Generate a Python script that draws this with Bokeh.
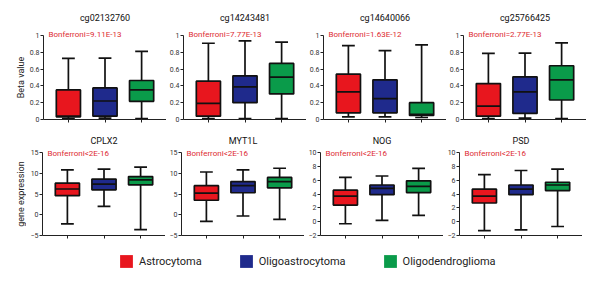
from math import pi
from bokeh.plotting import figure
from bokeh.layouts import column, row
from bokeh.models import ColumnDataSource, FixedTicker, Label, Legend, LegendItem, Range1d
from bokeh.embed import file_html
from bokeh.resources import INLINE

# ---------------- data ----------------
groups = ["Astrocytoma", "Oligoastrocytoma", "Oligodendroglioma"]
colors = ["#e8161e", "#1f2a8c", "#0a9b4a"]

probes = ["cg02132760", "cg14243481", "cg14640066", "cg25766425"]
probe_pvals = ["Bonferroni=9.11E-13", "Bonferroni=7.77E-13",
               "Bonferroni=1.63E-12", "Bonferroni=2.77E-13"]
genes = ["CPLX2", "MYT1L", "NOG", "PSD"]
gene_pvals = ["Bonferroni<2E-16", "Bonferroni<2E-16",
              "Bonferroni<2E-16", "Bonferroni<2E-16"]
row_labels = ["Beta value", "gene expression"]

# box statistics per panel: [Astrocytoma, Oligoastrocytoma, Oligodendroglioma]
cg02132760 = dict(lo=[0.01, 0.016, 0.012], q1=[0.032, 0.04, 0.216],
                  med=[0.04, 0.22, 0.352], q3=[0.352, 0.376, 0.464],
                  hi=[0.728, 0.73, 0.81])
cg14243481 = dict(lo=[0.01, 0.01, 0.01], q1=[0.04, 0.2, 0.304],
                  med=[0.192, 0.388, 0.504], q3=[0.456, 0.52, 0.668],
                  hi=[0.908, 0.936, 0.92])
cg14640066 = dict(lo=[0.032, 0.032, 0.024], q1=[0.08, 0.08, 0.048],
                  med=[0.328, 0.248, 0.06], q3=[0.54, 0.472, 0.2],
                  hi=[0.88, 0.82, 0.888])
cg25766425 = dict(lo=[0.01, 0.016, 0.01], q1=[0.04, 0.072, 0.232],
                  med=[0.16, 0.328, 0.472], q3=[0.428, 0.508, 0.64],
                  hi=[0.788, 0.79, 0.912])

CPLX2 = dict(lo=[-2.2, 2.0, -3.6], q1=[4.6, 6.0, 7.2],
             med=[6.2, 7.4, 8.4], q3=[7.6, 8.6, 9.2],
             hi=[10.8, 11.0, 11.5])
MYT1L = dict(lo=[-1.6, -0.3, -1.1], q1=[3.5, 5.3, 6.5],
             med=[5.2, 7.0, 8.0], q3=[7.0, 8.0, 9.0],
             hi=[10.3, 10.8, 11.2])
NOG = dict(lo=[-0.3, 0.2, 0.9], q1=[2.4, 3.9, 4.2],
           med=[3.7, 4.8, 5.1], q3=[4.55, 5.3, 5.9],
           hi=[6.4, 6.6, 7.7])
PSD = dict(lo=[-1.3, -1.2, -0.7], q1=[2.7, 3.9, 4.5],
           med=[3.7, 4.7, 5.3], q3=[4.7, 5.3, 5.7],
           hi=[6.8, 7.4, 7.6])

beta_ticks = [0.0, 0.2, 0.4, 0.6, 0.8, 1.0]
expr_ticks_a = [-5, 0, 5, 10, 15]
expr_ticks_b = [-2, 0, 2, 4, 6, 8, 10]

FONT = "Roboto"
PVAL_COLOR = "#dd2a30"
FRAME_W = 123
LEFT = 16
BOTTOM = 10
BOX_W = 0.66
CAP_W = 0.35


def panel(title, stats, pval, yrange, ticks, head_px, data_px,
          title_dy, pval_dy):
    xs = [i + 1 for i in range(len(groups))]
    y0, y1 = yrange
    # frame extends head_px pixels above the data range (for title / p-value)
    y_top = y1 + head_px * (y1 - y0) / data_px
    p = figure(frame_width=FRAME_W, frame_height=head_px + data_px,
               title=None,
               x_range=Range1d(0.32, 3.68), y_range=Range1d(y0, y_top),
               output_backend="svg", toolbar_location=None,
               min_border_left=LEFT, min_border_right=0,
               min_border_top=0, min_border_bottom=BOTTOM)
    p.outline_line_color = None
    p.grid.visible = False

    p.xaxis.ticker = FixedTicker(ticks=xs)
    p.xaxis.major_label_overrides = {x: "" for x in xs}
    p.xaxis.major_label_text_font_size = "4px"
    p.xaxis.major_label_standoff = 0
    p.yaxis.ticker = FixedTicker(ticks=ticks)
    p.yaxis.bounds = (y0, y1)
    for ax in (p.xaxis, p.yaxis):
        ax.axis_line_color = "#222222"
        ax.axis_line_width = 1
        ax.major_tick_line_color = "#222222"
        ax.major_tick_in = 0
        ax.major_tick_out = 3
        ax.minor_tick_line_color = None
    p.yaxis.major_label_text_font = FONT
    p.yaxis.major_label_text_font_size = "7px"
    p.yaxis.major_label_text_color = "#333333"
    p.yaxis.major_label_standoff = 1

    src = ColumnDataSource(dict(
        x=xs, lo=stats["lo"], q1=stats["q1"], med=stats["med"],
        q3=stats["q3"], hi=stats["hi"], color=colors,
        bl=[x - BOX_W / 2 for x in xs], br=[x + BOX_W / 2 for x in xs],
        cl=[x - CAP_W / 2 for x in xs], cr=[x + CAP_W / 2 for x in xs]))
    lw = 1.7
    p.segment(x0="x", y0="q3", x1="x", y1="hi", source=src, line_color="#111111", line_width=lw)
    p.segment(x0="x", y0="lo", x1="x", y1="q1", source=src, line_color="#111111", line_width=lw)
    p.segment(x0="cl", y0="hi", x1="cr", y1="hi", source=src, line_color="#111111", line_width=lw)
    p.segment(x0="cl", y0="lo", x1="cr", y1="lo", source=src, line_color="#111111", line_width=lw)
    p.vbar(x="x", width=BOX_W, bottom="q1", top="q3", source=src,
           fill_color="color", line_color="#111111", line_width=lw)
    p.segment(x0="bl", y0="med", x1="br", y1="med", source=src,
              line_color="#111111", line_width=lw)

    p.add_layout(Label(x=2, y=y1, y_offset=title_dy, text=title,
                       text_font=FONT, text_font_size="9px",
                       text_color="#111111", text_align="center",
                       text_baseline="middle"))
    p.add_layout(Label(x=0.32, y=y1, x_offset=5, y_offset=pval_dy, text=pval,
                       text_font=FONT, text_font_size="8px",
                       text_color=PVAL_COLOR, text_baseline="middle"))
    return p


def ylabel_strip(text, ref_panel, head_px, data_px, yrange):
    s = figure(frame_width=26, frame_height=head_px + data_px, title=None,
               x_range=Range1d(0, 1), y_range=ref_panel.y_range,
               output_backend="svg", toolbar_location=None,
               x_axis_location=None, y_axis_location=None,
               min_border_left=0, min_border_right=0, min_border_top=0,
               min_border_bottom=BOTTOM)
    s.outline_line_color = None
    s.grid.visible = False
    s.add_layout(Label(x=0.8, y=(yrange[0] + yrange[1]) / 2, text=text,
                       angle=pi / 2, text_font=FONT, text_font_size="9px",
                       text_color="#222222", text_align="center",
                       text_baseline="middle"))
    return s


top_stats = [cg02132760, cg14243481, cg14640066, cg25766425]
bot_stats = [CPLX2, MYT1L, NOG, PSD]
bot_ranges = [(-5, 15), (-5, 15), (-2, 10), (-2, 10)]
bot_ticks = [expr_ticks_a, expr_ticks_a, expr_ticks_b, expr_ticks_b]

TOP_HEAD, TOP_DATA = 35, 84
BOT_HEAD, BOT_DATA = 23, 83

top_row = [panel(probes[i], top_stats[i], probe_pvals[i], (0, 1.0),
                 beta_ticks, TOP_HEAD, TOP_DATA, 18, 1) for i in range(4)]
bot_row = [panel(genes[i], bot_stats[i], gene_pvals[i], bot_ranges[i],
                 bot_ticks[i], BOT_HEAD, BOT_DATA, 12, -1) for i in range(4)]

top_lab = ylabel_strip(row_labels[0], top_row[0], TOP_HEAD, TOP_DATA, (0, 1.0))
bot_lab = ylabel_strip(row_labels[1], bot_row[0], BOT_HEAD, BOT_DATA, bot_ranges[0])

# legend strip
lg = figure(width=26 + 4 * (LEFT + FRAME_W), height=26, title=None,
            x_range=Range1d(0, 1), y_range=Range1d(0, 1),
            output_backend="svg", toolbar_location=None,
            x_axis_location=None, y_axis_location=None,
            min_border=0)
lg.outline_line_color = None
lg.grid.visible = False
items = []
for g, c in zip(groups, colors):
    # proxy glyph kept outside the visible range; only its legend swatch shows
    r = lg.vbar(x=[-5], bottom=[-5], top=[-4], width=1, fill_color=c, line_color=None)
    items.append(LegendItem(label=g, renderers=[r]))
legend = Legend(items=items, orientation="horizontal", location=(118, 2),
                glyph_width=16, glyph_height=16, label_standoff=5,
                spacing=36, padding=0, margin=0, border_line_color=None,
                background_fill_alpha=0, label_text_font=FONT,
                label_text_font_size="11px", label_text_color="#222222")
lg.add_layout(legend)

layout = column(row(top_lab, *top_row), row(bot_lab, *bot_row), lg)
open("out.html", "w").write(file_html(layout, INLINE))
